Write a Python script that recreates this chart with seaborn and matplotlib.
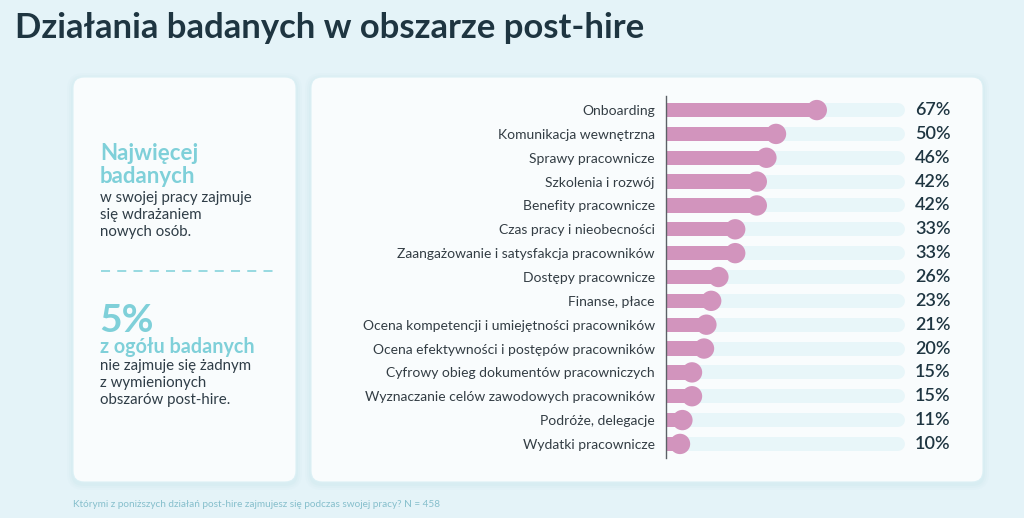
import numpy as np
import pandas as pd
import matplotlib
matplotlib.use("Agg")
import matplotlib.pyplot as plt
from matplotlib.patches import FancyBboxPatch
from matplotlib.lines import Line2D
from matplotlib.transforms import IdentityTransform
import seaborn as sns

# --- data ---
categories = [
    "Onboarding",
    "Komunikacja wewnętrzna",
    "Sprawy pracownicze",
    "Szkolenia i rozwój",
    "Benefity pracownicze",
    "Czas pracy i nieobecności",
    "Zaangażowanie i satysfakcja pracowników",
    "Dostępy pracownicze",
    "Finanse, płace",
    "Ocena kompetencji i umiejętności pracowników",
    "Ocena efektywności i postępów pracowników",
    "Cyfrowy obieg dokumentów pracowniczych",
    "Wyznaczanie celów zawodowych pracowników",
    "Podróże, delegacje",
    "Wydatki pracownicze",
]
values = [67, 50, 46, 42, 42, 33, 33, 26, 23, 21, 20, 15, 15, 11, 10]
pct_labels = [f"{v}%" for v in values]

title = "Działania badanych w obszarze post-hire"
footnote = "Którymi z poniższych działań post-hire zajmujesz się podczas swojej pracy? N = 458"

W, H = 1024, 518
BG = "#e4f3f8"
CARD = "#f9fcfd"
PINK = "#d294bd"
TRACK = "#e8f6f9"
TEAL = "#7fd0d9"
DARK = "#1e3541"
BODY = "#2f3d47"

sns.set_theme(style="white")
plt.rcParams["font.family"] = ["Lato", "DejaVu Sans"]

df = pd.DataFrame({"category": categories, "value": values})
df["pos"] = np.arange(len(df))

fig = plt.figure(figsize=(W / 100, H / 100), dpi=100)
fig.patch.set_facecolor(BG)


def fx(x):
    return x / W


def fy(y):
    return 1 - y / H


# cards (pixel coordinates) with a soft shadow, kept behind the axes
for x0, x1 in [(73, 296), (311, 983)]:
    for grow, a in [(6, 0.03), (4, 0.04), (2, 0.05)]:
        sh = FancyBboxPatch((x0 - grow, H - 482 - grow - 2), x1 - x0 + 2 * grow, 482 - 77 + 2 * grow,
                            boxstyle=f"round,pad=0,rounding_size={11 + grow}",
                            transform=IdentityTransform(), fc="#8cc8d8", ec="none",
                            alpha=a, zorder=-6)
        fig.patches.append(sh)
    card = FancyBboxPatch((x0, H - 482), x1 - x0, 482 - 77,
                          boxstyle="round,pad=0,rounding_size=11",
                          transform=IdentityTransform(), fc=CARD,
                          ec="#dcf0f5", lw=0.8, zorder=-5)
    fig.patches.append(card)

fig.text(fx(15), fy(38), title, fontsize=24.9, fontweight="bold", color=DARK, va="baseline")
fig.text(fx(73), fy(507), footnote, fontsize=7.2, color="#86bfcc", va="baseline")

# left card texts
fig.text(fx(100), fy(160), "Najwięcej", fontsize=16, fontweight="bold", color=TEAL, va="baseline")
fig.text(fx(100), fy(183), "badanych", fontsize=16, fontweight="bold", color=TEAL, va="baseline")
for yy, line in zip([202, 219, 236], ["w swojej pracy zajmuje", "się wdrażaniem", "nowych osób."]):
    fig.text(fx(100), fy(yy), line, fontsize=10.8, color=BODY, va="baseline")
fig.add_artist(Line2D([fx(101), fx(274)], [fy(271), fy(271)], color="#8fd7df",
                      lw=1.3, ls=(0, (5, 4))))
fig.text(fx(99), fy(332), "5%", fontsize=28, fontweight="bold", color=TEAL, va="baseline")
fig.text(fx(100), fy(353), "z ogółu badanych", fontsize=14.2, fontweight="bold", color=TEAL, va="baseline")
for yy, line in zip([370, 387, 404], ["nie zajmuje się żadnym", "z wymienionych", "obszarów post-hire."]):
    fig.text(fx(100), fy(yy), line, fontsize=10.8, color=BODY, va="baseline")

# --- bar chart ---
left, right, top, bottom = 666, 920, 96, 458
ax = fig.add_axes([fx(left), fy(bottom), (right - left) / W, (bottom - top) / H])
ax.set_facecolor("none")
ax.set_zorder(2)

# scale: 2.4 px per percent, zero at x=656px
x0 = (left - 656) / 2.4
x1 = (right - 656) / 2.4

ax.hlines(df["pos"], 0, 101, color=TRACK, lw=10, capstyle="round", zorder=1)
sns.barplot(data=df, x="value", y="pos", orient="h", order=df["pos"], color=PINK,
            saturation=1, width=0.6, edgecolor="none", ax=ax, zorder=2)
sns.scatterplot(data=df, x="value", y="pos", s=215, color=PINK, edgecolor="none",
                linewidth=0, ax=ax, zorder=3, legend=False)

ax.set_xlim(x0, x1)
ax.set_ylim(len(df) - 1 + 0.59, -0.59)
ax.set_yticks(df["pos"])
ax.set_yticklabels(categories, fontsize=10.0, color="#333d44")
ax.tick_params(axis="y", length=0, pad=8)
ax.set_xticks([])
ax.set_xlabel("")
ax.set_ylabel("")
for s in ["top", "right", "bottom"]:
    ax.spines[s].set_visible(False)
ax.spines["left"].set_color("#5b6166")
ax.spines["left"].set_linewidth(1.0)

for p, lab in zip(df["pos"], pct_labels):
    ax.text((915 - left) / (right - left), p, lab, transform=ax.get_yaxis_transform(),
            fontsize=13, fontweight="semibold", color=DARK, va="center", ha="left", clip_on=False)

fig.savefig("out.png", dpi=100, facecolor=BG)
